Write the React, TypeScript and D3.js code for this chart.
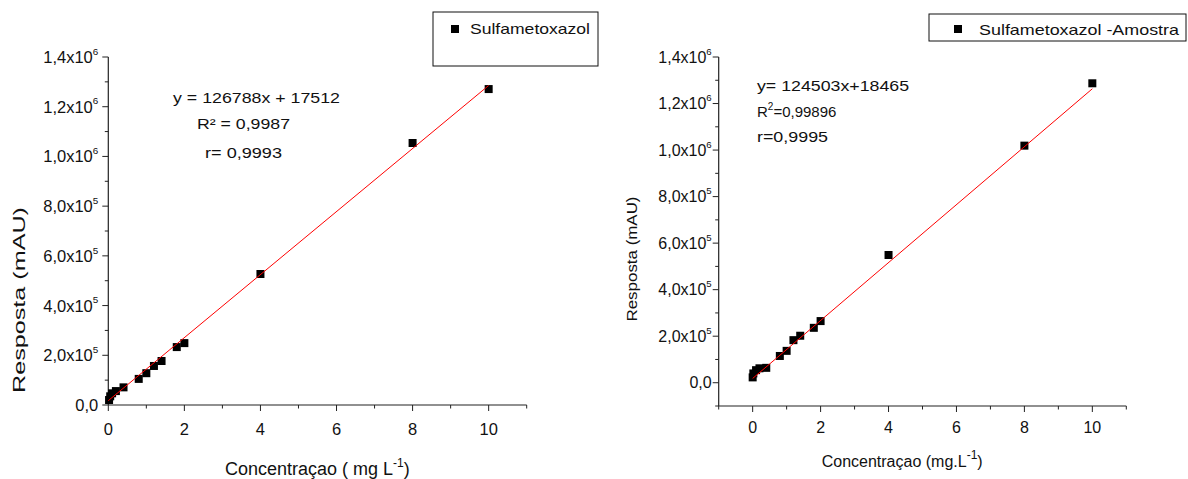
import React from "react";
import * as d3 from "d3";

// Calibration data: concentration (mg/L) vs detector response (mAU)
const standardConc = [0.02, 0.05, 0.1, 0.2, 0.4, 0.8, 1.0, 1.2, 1.4, 1.8, 2.0, 4.0, 8.0, 10.0];
const standardResp = [20000, 35000, 47000, 56000, 71000, 105000, 128000, 157000, 177000, 233000, 249000, 527000, 1054000, 1271000];

const sampleConc = [0.0, 0.02, 0.1, 0.2, 0.4, 0.8, 1.0, 1.2, 1.4, 1.8, 2.0, 4.0, 8.0, 10.0];
const sampleResp = [23000, 40000, 54000, 62000, 64000, 115000, 137000, 183000, 202000, 236000, 265000, 549000, 1019000, 1287000];

// Linear fits reported for each curve
const standardFit = { slope: 126788, intercept: 17512 };
const sampleFit = { slope: 124503, intercept: 18465 };

const xMajorTicks = [0, 2, 4, 6, 8, 10];
const yMajorTicks = [0, 200000, 400000, 600000, 800000, 1000000, 1200000, 1400000];

const FONT = "Liberation Sans, Arial, sans-serif";

type PanelProps = {
  conc: number[];
  resp: number[];
  fit: { slope: number; intercept: number };
  xDomain: [number, number];
  xRange: [number, number];
  yDomain: [number, number];
  yRange: [number, number];
  tickFont: number;
  xLabelGap: number;
  yLabelGap: number;
};

function yLabel(v: number, size: number) {
  if (v === 0) return <tspan>0,0</tspan>;
  const exp = Math.floor(Math.log10(v));
  const mant = (v / Math.pow(10, exp)).toFixed(1).replace(".", ",");
  return (
    <>
      <tspan>{mant}x10</tspan>
      <tspan dy={-size * 0.5} fontSize={size * 0.6}>{exp}</tspan>
    </>
  );
}

function Panel(p: PanelProps) {
  const x = d3.scaleLinear().domain(p.xDomain).range(p.xRange);
  const y = d3.scaleLinear().domain(p.yDomain).range(p.yRange);
  const [x0, x1] = p.xRange;
  const [yb, yt] = p.yRange;
  const xMinor = d3.range(Math.ceil(p.xDomain[0]), p.xDomain[1] + 0.001, 1).filter((v) => !xMajorTicks.includes(v));
  const yMinor = d3.range(Math.ceil(p.yDomain[0] / 100000) * 100000, p.yDomain[1] + 1, 100000).filter((v) => !yMajorTicks.includes(v));
  const axisColor = "#222";
  const line = d3.line<number>().x((d) => x(d)).y((d) => y(p.fit.slope * d + p.fit.intercept));
  const s = 8;
  return (
    <g>
      <line x1={x0} x2={x1} y1={yb} y2={yb} stroke={axisColor} strokeWidth={1.2} />
      <line x1={x0} x2={x0} y1={yb} y2={yt} stroke={axisColor} strokeWidth={1.2} />
      {xMajorTicks.map((t) => (
        <g key={"xm" + t}>
          <line x1={x(t)} x2={x(t)} y1={yb} y2={yb + 6} stroke={axisColor} />
          <text x={x(t)} y={yb + p.xLabelGap} textAnchor="middle" fontSize={p.tickFont} fontFamily={FONT} fill="#111">{t}</text>
        </g>
      ))}
      {xMinor.map((t) => (
        <line key={"xn" + t} x1={x(t)} x2={x(t)} y1={yb} y2={yb + 3.5} stroke={axisColor} />
      ))}
      {yMajorTicks.map((t) => (
        <g key={"ym" + t}>
          <line x1={x0 - 6} x2={x0} y1={y(t)} y2={y(t)} stroke={axisColor} />
          <text x={x0 - p.yLabelGap} y={y(t) + p.tickFont * 0.36} textAnchor="end" fontSize={p.tickFont} fontFamily={FONT} fill="#111">
            {yLabel(t, p.tickFont)}
          </text>
        </g>
      ))}
      {yMinor.map((t) => (
        <line key={"yn" + t} x1={x0 - 3.5} x2={x0} y1={y(t)} y2={y(t)} stroke={axisColor} />
      ))}
      {p.conc.map((c, i) => (
        <rect key={"pt" + i} x={x(c) - s / 2} y={y(p.resp[i]) - s / 2} width={s} height={s} fill="#000" />
      ))}
      <path d={line([0, 10]) || ""} stroke="#ff0000" strokeWidth={1} fill="none" />
    </g>
  );
}

export default function App() {
  const stretch = { lengthAdjust: "spacingAndGlyphs" as const };
  return (
    <svg width={1188} height={479} style={{ display: "block", position: "absolute", left: 0, top: 0, background: "#fff" }}>
      <rect width={1188} height={479} fill="#fff" />
      <Panel
        conc={standardConc}
        resp={standardResp}
        fit={standardFit}
        xDomain={[0, 11]}
        xRange={[108.3, 526.7]}
        yDomain={[0, 1400000]}
        yRange={[405, 57]}
        tickFont={16.5}
        xLabelGap={30}
        yLabelGap={10}
      />
      <Panel
        conc={sampleConc}
        resp={sampleResp}
        fit={sampleFit}
        xDomain={[-1, 11]}
        xRange={[718.7, 1126.3]}
        yDomain={[-100000, 1400000]}
        yRange={[406, 57]}
        tickFont={16}
        xLabelGap={27}
        yLabelGap={7}
      />

      {/* left panel text */}
      <g fontFamily={FONT} fill="#111">
        <rect x={433} y={12} width={165} height={54} fill="none" stroke="#111" />
        <rect x={451} y={25} width={8} height={8} fill="#000" />
        <text x={470} y={33.5} fontSize={15} textLength={120} {...stretch}>Sulfametoxazol</text>

        <text x={173} y={103} fontSize={15} textLength={167} {...stretch}>y = 126788x + 17512</text>
        <text x={197} y={128.5} fontSize={15} textLength={93} {...stretch}>R² = 0,9987</text>
        <text x={205} y={157.5} fontSize={15} textLength={77} {...stretch}>r= 0,9993</text>

        <text x={225} y={475} fontSize={18}>
          Concentraçao ( mg L<tspan dy={-8} fontSize={12}>-1</tspan><tspan dy={8}>)</tspan>
        </text>
        <text transform="translate(25,300) rotate(-90)" fontSize={16} textAnchor="middle" textLength={186} {...stretch}>Resposta  (mAU)</text>
      </g>

      {/* right panel text */}
      <g fontFamily={FONT} fill="#111">
        <rect x={929} y={14} width={257} height={27} fill="none" stroke="#111" />
        <rect x={954} y={25} width={8} height={8} fill="#000" />
        <text x={979} y={35} fontSize={14.5} textLength={200} {...stretch}>Sulfametoxazol -Amostra</text>

        <text x={757} y={90.7} fontSize={15} textLength={152} {...stretch}>y= 124503x+18465</text>
        <text x={757} y={116.7} fontSize={15}>
          R<tspan dy={-7} fontSize={10}>2</tspan><tspan dy={7}>=0,99896</tspan>
        </text>
        <text x={757} y={141.7} fontSize={15} textLength={71} {...stretch}>r=0,9995</text>

        <text x={821.7} y={466.7} fontSize={16}>
          Concentraçao (mg.L<tspan dy={-8} fontSize={12}>-1</tspan><tspan dy={8}>)</tspan>
        </text>
        <text transform="translate(637,259) rotate(-90)" fontSize={15} textAnchor="middle" textLength={125} {...stretch}>Resposta (mAU)</text>
      </g>
    </svg>
  );
}
